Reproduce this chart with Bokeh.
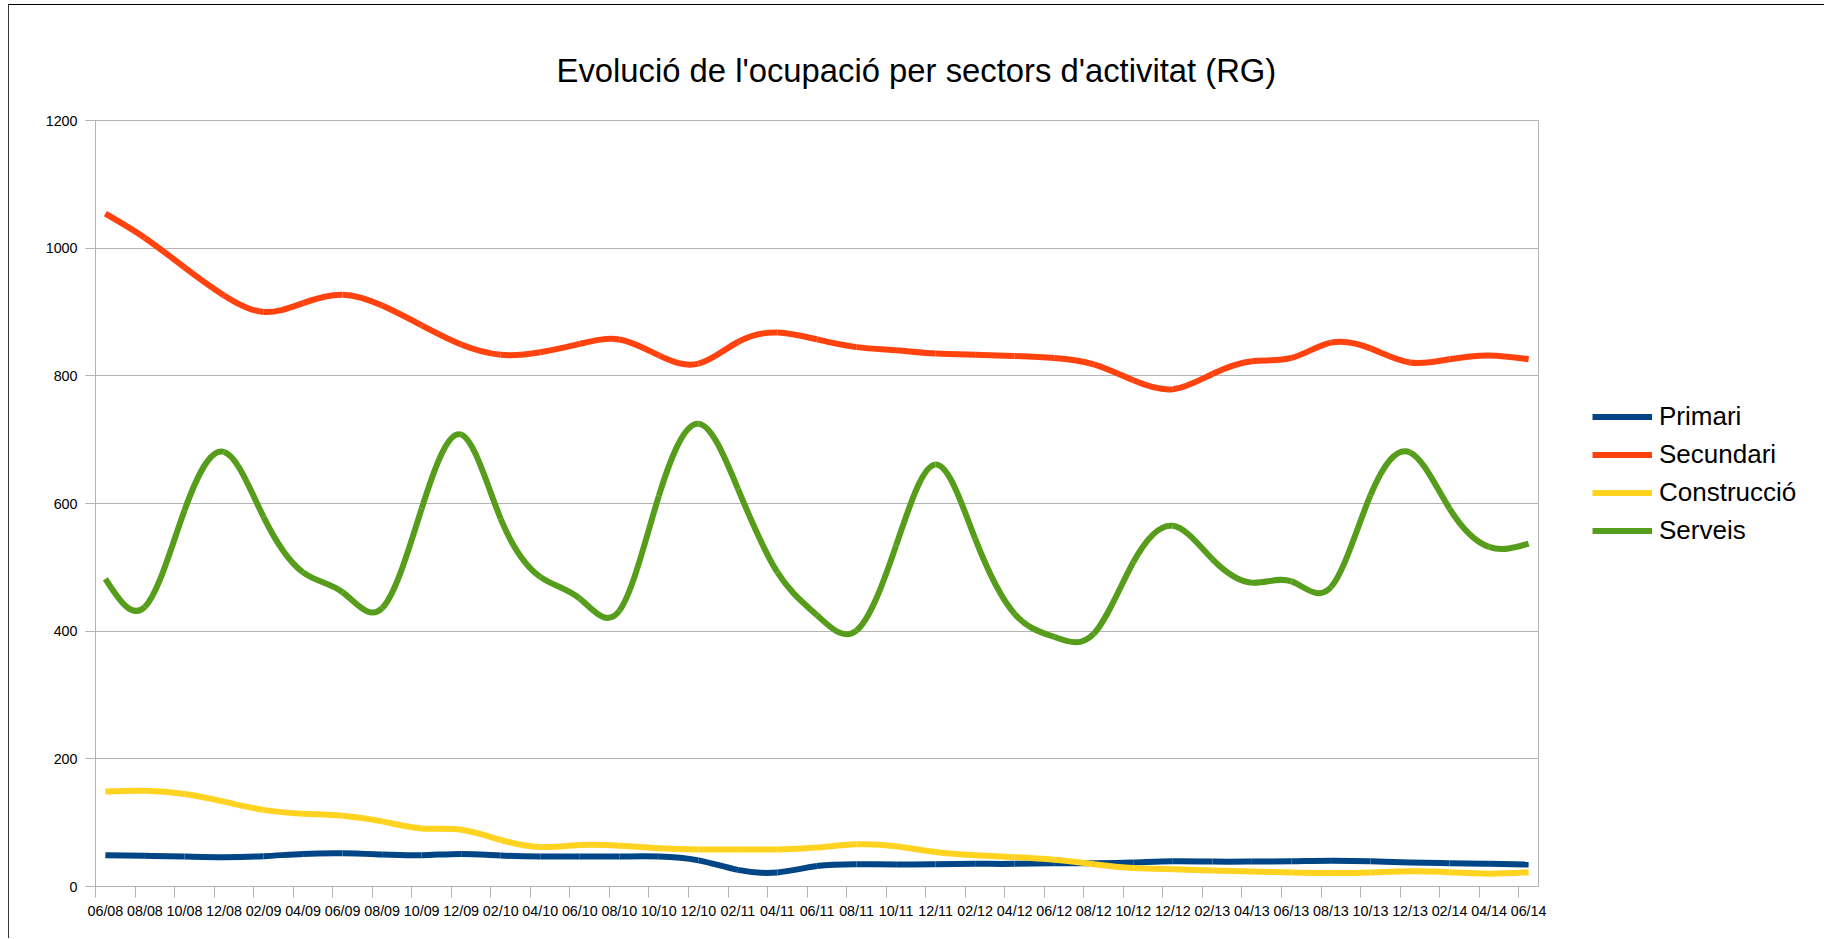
import numpy as np
from bokeh.plotting import figure
from bokeh.models import (Range1d, FixedTicker, LinearAxis, CustomJSTickFormatter,
                          Legend, LegendItem, ColumnDataSource)
from bokeh.embed import file_html
from bokeh.resources import INLINE

# ---------------- data ----------------
periods = ["06/08", "08/08", "10/08", "12/08", "02/09", "04/09", "06/09", "08/09", "10/09",
           "12/09", "02/10", "04/10", "06/10", "08/10", "10/10", "12/10", "02/11", "04/11",
           "06/11", "08/11", "10/11", "12/11", "02/12", "04/12", "06/12", "08/12", "10/12",
           "12/12", "02/13", "04/13", "06/13", "08/13", "10/13", "12/13", "02/14", "04/14",
           "06/14"]

primari = [49, 48, 47, 46, 47.5, 51, 52, 50, 49, 51, 48.5, 47, 47, 47, 47, 41, 26, 22,
           32, 35, 34.5, 35, 35.5, 35.5, 36.5, 36.5, 37.5, 39.5, 39, 39, 39.5, 40.5, 39.5,
           37.5, 36.5, 35.5, 34.5]

secundari = [1054, 1016, 970, 926, 900, 914, 927, 910, 879, 849, 833, 837, 850, 857, 832,
             819, 853, 868, 857, 845, 840, 835, 833, 831, 828, 818, 793, 779, 803, 823, 828,
             852, 843, 821, 826, 832, 826]

construccio = [149, 150, 145, 133, 120, 114, 111, 102, 91, 89, 73, 62, 65, 64, 60, 58, 58,
               58, 61, 66, 63, 54, 49, 46, 42, 35, 29, 27, 25, 23.5, 22, 21, 22, 24, 22.5,
               20, 22.5]

serveis = [482, 438, 589, 681, 579, 492, 461, 436, 592, 708, 576, 485, 451, 432, 612, 725,
           623, 492, 425, 401, 534, 661, 545, 427, 391, 396, 508, 565, 513, 476, 478, 469,
           613, 680, 592, 532, 537]

series_names = ["Primari", "Secundari", "Construcció", "Serveis"]
series_values = [primari, secundari, construccio, serveis]
series_colors = ["#004586", "#ff420e", "#ffd320", "#579d1c"]

title_text = "Evolució de l'ocupació per sectors d'activitat (RG)"
y_ticks = [0, 200, 400, 600, 800, 1000, 1200]

FONT = "Liberation Sans"
GRID = "#b3b3b3"


def spline_slopes(y):
    """Slopes of a natural cubic spline through equally spaced points (unit step)."""
    y = np.asarray(y, dtype=float)
    n = len(y)
    A = np.zeros((n, n))
    b = np.zeros(n)
    A[0, 0] = 1.0
    A[-1, -1] = 1.0
    for i in range(1, n - 1):
        A[i, i - 1] = 1.0
        A[i, i] = 4.0
        A[i, i + 1] = 1.0
        b[i] = 6.0 * (y[i + 1] - 2.0 * y[i] + y[i - 1])
    M = np.linalg.solve(A, b)
    d = np.empty(n)
    d[:-1] = (y[1:] - y[:-1]) - (2.0 * M[:-1] + M[1:]) / 6.0
    d[-1] = (y[-1] - y[-2]) + (M[-2] + 2.0 * M[-1]) / 6.0
    return d


n = len(periods)
idx = np.arange(n, dtype=float)

p = figure(frame_width=1443, frame_height=766,
           min_border_left=86, min_border_right=283, min_border_top=115, min_border_bottom=52,
           x_range=Range1d(-0.25, n - 1 + 0.25), y_range=Range1d(0, 1200),
           output_backend="svg", toolbar_location=None,
           background_fill_color="white", border_fill_color="white")

p.styles = {"margin-left": "8px", "margin-top": "4px",
            "border-top": "1px solid #000000", "border-left": "1px solid #333333",
            "border-right": "2px solid #808080"}

# title
p.title.text = title_text
p.title.align = "left"
p.title.text_font = FONT
p.title.text_font_size = "32.8px"
p.title.text_font_style = "normal"
p.title.text_color = "#000000"
p.title.offset = 461
p.title.standoff = 64

# frame outline
p.outline_line_color = GRID
p.outline_line_width = 1

# grids
p.xgrid.visible = False
p.ygrid.ticker = FixedTicker(ticks=y_ticks)
p.ygrid.grid_line_color = GRID
p.ygrid.grid_line_width = 1

# y axis
ya = p.yaxis[0]
ya.ticker = FixedTicker(ticks=y_ticks)
ya.axis_line_color = GRID
ya.major_tick_line_color = GRID
ya.major_tick_out = 10
ya.major_tick_in = 0
ya.minor_tick_line_color = None
ya.major_label_standoff = 8
ya.major_label_text_font = FONT
ya.major_label_text_font_size = "14.3px"
ya.major_label_text_color = "#000000"

# x axis: tick marks between categories (no labels)
xa = p.xaxis[0]
xa.ticker = FixedTicker(ticks=[i - 0.25 for i in range(n)])
xa.formatter = CustomJSTickFormatter(code="return ''")
xa.axis_line_color = GRID
xa.major_tick_line_color = GRID
xa.major_tick_out = 11
xa.major_tick_in = 0
xa.minor_tick_line_color = None
xa.major_label_standoff = 0
xa.major_label_text_font_size = "1px"

# x axis: category labels
xl = LinearAxis(ticker=FixedTicker(ticks=list(range(n))),
                major_label_overrides={i: lab for i, lab in enumerate(periods)})
xl.axis_line_color = None
xl.major_tick_line_color = None
xl.major_tick_out = 0
xl.major_tick_in = 0
xl.minor_tick_line_color = None
xl.major_label_standoff = 5
xl.major_label_text_font = FONT
xl.major_label_text_font_size = "14.3px"
xl.major_label_text_color = "#000000"
p.add_layout(xl, "below")

# series as smooth cubic-spline curves
items = []
for name, vals, color in zip(series_names, series_values, series_colors):
    y = np.asarray(vals, dtype=float)
    d = spline_slopes(y)
    src = ColumnDataSource(dict(
        x0=idx[:-1], y0=y[:-1], x1=idx[1:], y1=y[1:],
        cx0=idx[:-1] + 1.0 / 3.0, cy0=y[:-1] + d[:-1] / 3.0,
        cx1=idx[1:] - 1.0 / 3.0, cy1=y[1:] - d[1:] / 3.0))
    r = p.bezier(x0="x0", y0="y0", x1="x1", y1="y1", cx0="cx0", cy0="cy0",
                 cx1="cx1", cy1="cy1", source=src, line_color=color, line_width=6,
                 line_cap="butt")
    items.append(LegendItem(label=name, renderers=[r]))

legend = Legend(items=items, location=(54, 338.5), orientation="vertical",
                glyph_width=60, glyph_height=35, spacing=3, padding=0, margin=0,
                label_standoff=7, label_text_font=FONT, label_text_font_size="26px",
                label_text_color="#000000", border_line_color=None,
                background_fill_alpha=0)
p.add_layout(legend, "right")

open("out.html", "w").write(file_html(p, INLINE))
